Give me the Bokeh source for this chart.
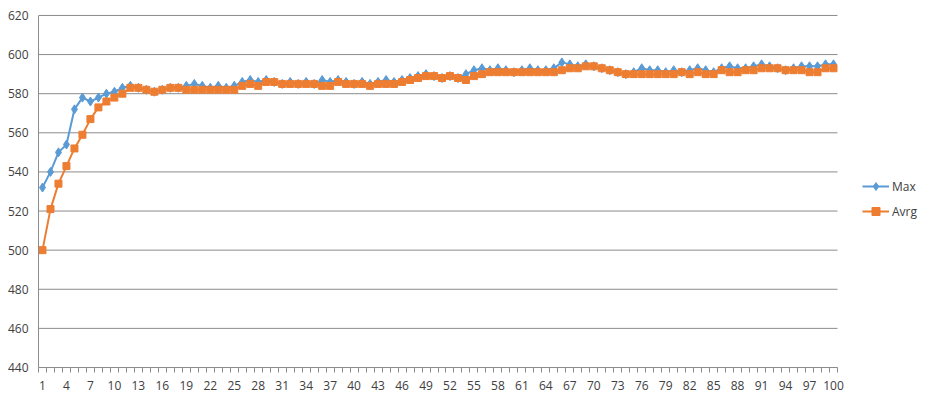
from bokeh.plotting import figure
from bokeh.models import Range1d, FixedTicker, Legend, LegendItem, ColumnDataSource
from bokeh.embed import file_html
from bokeh.resources import INLINE

categories = list(range(1, 101))
max_vals = [532, 540, 550, 554, 572, 578, 576, 578, 580, 581,
            583, 584, 583, 582, 581, 582, 583, 583, 584, 585,
            584, 583, 584, 583, 584, 586, 587, 586, 587, 586,
            585, 586, 585, 586, 585, 587, 586, 587, 586, 585,
            586, 585, 586, 587, 586, 587, 588, 589, 590, 589,
            588, 589, 588, 590, 592, 593, 592, 593, 592, 591,
            592, 593, 592, 592, 593, 596, 595, 594, 595, 594,
            593, 592, 591, 590, 591, 593, 592, 592, 591, 592,
            591, 592, 593, 592, 591, 593, 594, 593, 593, 594,
            595, 594, 593, 592, 593, 594, 594, 594, 595, 595]
avrg_vals = [500, 521, 534, 543, 552, 559, 567, 573, 576, 578,
             580, 583, 583, 582, 581, 582, 583, 583, 582, 582,
             582, 582, 582, 582, 582, 584, 585, 584, 586, 586,
             585, 585, 585, 585, 585, 584, 584, 586, 585, 585,
             585, 584, 585, 585, 585, 586, 587, 588, 589, 589,
             588, 589, 588, 587, 589, 590, 591, 591, 591, 591,
             591, 591, 591, 591, 591, 592, 593, 593, 594, 594,
             593, 592, 591, 590, 590, 590, 590, 590, 590, 590,
             591, 590, 591, 590, 590, 592, 591, 591, 592, 592,
             593, 593, 593, 592, 592, 592, 591, 591, 593, 593]
y_ticks = [440, 460, 480, 500, 520, 540, 560, 580, 600, 620]
x_label_ticks = list(range(1, 101, 3))
series_names = ["Max", "Avrg"]

BLUE = "#5B9BD5"
ORANGE = "#ED7D31"
GRID = "#8C8C8C"
TEXT = "#404040"
FONT = "Open Sans"

n = len(categories)
x_lo, x_hi = 0.5, n + 0.5
px_per_cat = 7.99
frame_w = 888
y_lo, y_hi = y_ticks[0], y_ticks[-1]

src = ColumnDataSource(dict(x=categories, mx=max_vals, av=avrg_vals))

p = figure(frame_width=frame_w, frame_height=354, output_backend="svg", toolbar_location=None,
           x_range=Range1d(x_lo, x_lo + frame_w / px_per_cat), y_range=Range1d(y_lo, y_hi + 1),
           min_border_left=38, min_border_right=0, min_border_top=13, min_border_bottom=22)
p.outline_line_color = None
p.background_fill_color = "white"
p.border_fill_color = "white"

# horizontal gridlines limited to the category span
p.segment(x0=[x_lo] * len(y_ticks), x1=[x_hi] * len(y_ticks), y0=y_ticks, y1=y_ticks,
          line_color=GRID, line_width=1)

l1 = p.line("x", "mx", source=src, line_color=BLUE, line_width=2)
s1 = p.scatter("x", "mx", source=src, marker="diamond", size=9, fill_color=BLUE, line_color=BLUE)
l2 = p.line("x", "av", source=src, line_color=ORANGE, line_width=2)
s2 = p.scatter("x", "av", source=src, marker="square", size=7, fill_color=ORANGE, line_color=ORANGE)

# axes
xa = p.xaxis[0]
xa.bounds = (x_lo, x_hi)
xa.ticker = FixedTicker(ticks=x_label_ticks, minor_ticks=[c - 0.5 for c in categories] + [x_hi])
xa.major_tick_out = 0
xa.major_tick_in = 0
xa.minor_tick_out = 5
xa.minor_tick_in = 0
xa.minor_tick_line_color = GRID
xa.axis_line_color = GRID
xa.major_label_text_font = FONT
xa.major_label_text_font_size = "12px"
xa.major_label_text_color = TEXT
xa.major_label_standoff = 8

ya = p.yaxis[0]
ya.bounds = (y_lo, y_hi)
ya.ticker = FixedTicker(ticks=y_ticks)
ya.major_tick_out = 0
ya.major_tick_in = 0
ya.minor_tick_out = 0
ya.minor_tick_in = 0
ya.axis_line_color = GRID
ya.major_label_text_font = FONT
ya.major_label_text_font_size = "12px"
ya.major_label_text_color = TEXT
ya.major_label_standoff = 10

p.xgrid.visible = False
p.ygrid.visible = False

legend = Legend(items=[LegendItem(label=series_names[0], renderers=[l1, s1]),
                       LegendItem(label=series_names[1], renderers=[l2, s2])],
                location=(824, 146), margin=0, padding=0, spacing=5,
                glyph_width=27, glyph_height=20, label_height=20, label_standoff=3,
                label_text_font=FONT, label_text_font_size="12px", label_text_color=TEXT,
                border_line_color=None, background_fill_alpha=0)
p.add_layout(legend, "center")

open("out.html", "w").write(file_html(p, INLINE))
